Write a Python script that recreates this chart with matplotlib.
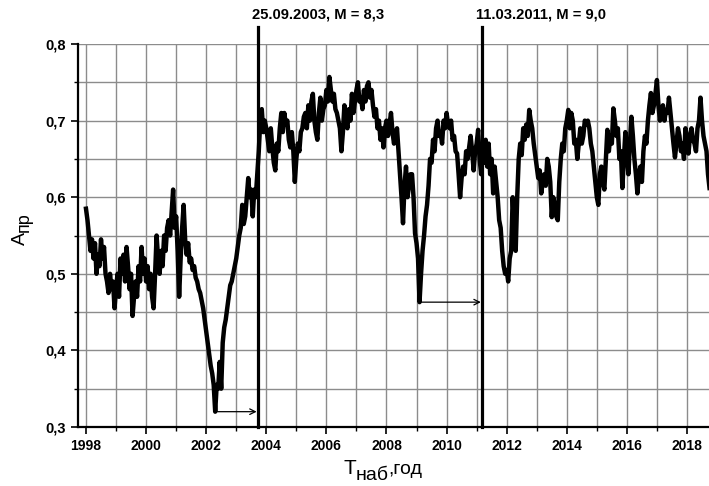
import matplotlib
matplotlib.use('Agg')
import matplotlib.pyplot as plt
import numpy as np
from matplotlib.ticker import MultipleLocator

plt.rcParams['font.family'] = ['Liberation Sans', 'DejaVu Sans']

# Данные: А_пр, шаг 0,05 года, начиная с 1998.0
start_year = 1998.0
step = 0.05
a_1998 = [0.585, 0.57, 0.55, 0.53, 0.545, 0.52, 0.54, 0.50, 0.525, 0.51,
          0.545, 0.52, 0.535, 0.50, 0.49, 0.475, 0.50, 0.48, 0.49, 0.455]
a_1999 = [0.48, 0.50, 0.47, 0.52, 0.50, 0.525, 0.49, 0.535, 0.51, 0.48,
          0.50, 0.445, 0.47, 0.49, 0.47, 0.51, 0.49, 0.535, 0.50, 0.52]
a_2000 = [0.49, 0.51, 0.48, 0.50, 0.47, 0.455, 0.50, 0.55, 0.52, 0.50,
          0.53, 0.51, 0.55, 0.53, 0.56, 0.57, 0.55, 0.58, 0.61, 0.56]
a_2001 = [0.575, 0.53, 0.47, 0.52, 0.56, 0.59, 0.545, 0.525, 0.54, 0.515,
          0.52, 0.505, 0.51, 0.495, 0.49, 0.48, 0.475, 0.465, 0.455, 0.44]
a_2002 = [0.425, 0.41, 0.395, 0.38, 0.37, 0.355, 0.32, 0.355, 0.35, 0.385,
          0.35, 0.41, 0.43, 0.44, 0.455, 0.47, 0.485, 0.49, 0.50, 0.51]
a_2003 = [0.52, 0.535, 0.55, 0.56, 0.59, 0.565, 0.575, 0.60, 0.625, 0.60,
          0.61, 0.575, 0.61, 0.60, 0.63, 0.66, 0.70, 0.715, 0.685, 0.70]
a_2004 = [0.69, 0.675, 0.66, 0.69, 0.665, 0.645, 0.635, 0.67, 0.66, 0.69,
          0.71, 0.685, 0.71, 0.695, 0.70, 0.675, 0.665, 0.685, 0.66, 0.62]
a_2005 = [0.65, 0.67, 0.66, 0.685, 0.69, 0.705, 0.71, 0.69, 0.72, 0.70,
          0.725, 0.735, 0.70, 0.685, 0.675, 0.71, 0.73, 0.70, 0.715, 0.72]
a_2006 = [0.74, 0.725, 0.757, 0.74, 0.725, 0.735, 0.715, 0.71, 0.70, 0.69,
          0.66, 0.685, 0.72, 0.70, 0.69, 0.715, 0.70, 0.735, 0.71, 0.725]
a_2007 = [0.74, 0.75, 0.725, 0.73, 0.715, 0.74, 0.725, 0.745, 0.75, 0.73,
          0.74, 0.72, 0.705, 0.715, 0.69, 0.70, 0.675, 0.69, 0.665, 0.69]
a_2008 = [0.70, 0.68, 0.695, 0.71, 0.685, 0.67, 0.68, 0.69, 0.66, 0.63,
          0.60, 0.566, 0.615, 0.64, 0.60, 0.615, 0.63, 0.63, 0.60, 0.553]
a_2009 = [0.54, 0.52, 0.463, 0.50, 0.53, 0.55, 0.575, 0.59, 0.615, 0.65,
          0.645, 0.675, 0.66, 0.69, 0.70, 0.68, 0.685, 0.67, 0.70, 0.69]
a_2010 = [0.71, 0.695, 0.69, 0.70, 0.675, 0.68, 0.66, 0.657, 0.63, 0.60,
          0.625, 0.64, 0.63, 0.66, 0.65, 0.665, 0.68, 0.66, 0.635, 0.66]
a_2011 = [0.67, 0.688, 0.65, 0.63, 0.665, 0.645, 0.675, 0.64, 0.67, 0.63,
          0.65, 0.605, 0.64, 0.62, 0.60, 0.57, 0.56, 0.53, 0.51, 0.50]
a_2012 = [0.505, 0.49, 0.52, 0.53, 0.60, 0.56, 0.53, 0.60, 0.65, 0.67,
          0.655, 0.69, 0.675, 0.695, 0.68, 0.714, 0.70, 0.69, 0.67, 0.655]
a_2013 = [0.64, 0.625, 0.635, 0.605, 0.62, 0.63, 0.615, 0.65, 0.64, 0.62,
          0.574, 0.60, 0.59, 0.575, 0.57, 0.62, 0.65, 0.67, 0.66, 0.69]
a_2014 = [0.70, 0.714, 0.69, 0.71, 0.70, 0.67, 0.675, 0.65, 0.67, 0.69,
          0.67, 0.68, 0.70, 0.695, 0.70, 0.69, 0.67, 0.66, 0.64, 0.62]
a_2015 = [0.60, 0.59, 0.63, 0.64, 0.62, 0.61, 0.65, 0.688, 0.66, 0.68,
          0.67, 0.716, 0.70, 0.68, 0.69, 0.65, 0.66, 0.612, 0.65, 0.685]
a_2016 = [0.66, 0.63, 0.67, 0.705, 0.68, 0.65, 0.63, 0.605, 0.63, 0.64,
          0.62, 0.66, 0.68, 0.67, 0.70, 0.72, 0.736, 0.71, 0.72, 0.735]
a_2017 = [0.753, 0.72, 0.70, 0.715, 0.72, 0.70, 0.714, 0.71, 0.73, 0.71,
          0.69, 0.67, 0.652, 0.67, 0.69, 0.68, 0.66, 0.67, 0.65, 0.69]
a_2018 = [0.675, 0.657, 0.68, 0.69, 0.675, 0.67, 0.66, 0.69, 0.70, 0.73,
          0.70, 0.68, 0.67, 0.66, 0.63, 0.612]

values = np.array(a_1998 + a_1999 + a_2000 + a_2001 + a_2002 + a_2003 + a_2004
                  + a_2005 + a_2006 + a_2007 + a_2008 + a_2009 + a_2010 + a_2011
                  + a_2012 + a_2013 + a_2014 + a_2015 + a_2016 + a_2017 + a_2018)
years = start_year + step * np.arange(len(values))

# Землетрясения
event_dates = [2003.73, 2011.19]
event_labels = ['25.09.2003, M = 8,3', '11.03.2011, M = 9,0']
min_windows = [(2001.5, 2003.73), (2008.5, 2011.19)]

x_ticks = [1998, 2000, 2002, 2004, 2006, 2008, 2010, 2012, 2014, 2016, 2018]
y_ticks = [0.3, 0.4, 0.5, 0.6, 0.7, 0.8]
y_tick_labels = ['0,3', '0,4', '0,5', '0,6', '0,7', '0,8']

fig = plt.figure(figsize=(7.09, 4.86), dpi=100)
ax = fig.add_axes([0.110, 0.1214, 0.892, 0.788])

ax.plot(years, values, color='black', lw=3.2, solid_joinstyle='round')

# Вертикальные линии событий и подписи
for d, lab, (w0, w1) in zip(event_dates, event_labels, min_windows):
    ax.axvline(d, ymin=0, ymax=1.044, color='black', lw=2.3, clip_on=False, zorder=3)
    ax.text(d - 0.2, 1.076, lab, transform=ax.get_xaxis_transform(),
            fontsize=10.6, fontweight='bold', ha='left', va='center')
    mask = (years >= w0) & (years <= w1)
    i = np.argmin(values[mask])
    tmin, vmin = years[mask][i], values[mask][i]
    ax.annotate('', xy=(d - 0.05, vmin), xytext=(tmin, vmin),
                arrowprops=dict(arrowstyle='->', color='black', lw=0.9,
                                shrinkA=0, shrinkB=0), zorder=4)

ax.set_xlim(1997.734, 2018.78)
ax.set_ylim(0.3, 0.8)
ax.set_xticks(x_ticks)
ax.set_xticklabels([str(x) for x in x_ticks], fontsize=10, fontweight='bold')
ax.set_yticks(y_ticks)
ax.set_yticklabels(y_tick_labels, fontsize=10.5, fontweight='bold')
ax.xaxis.set_minor_locator(MultipleLocator(1))
ax.yaxis.set_minor_locator(MultipleLocator(0.05))
ax.tick_params(which='major', length=5, width=1.2, direction='out')
ax.tick_params(which='minor', length=3, width=1.0, direction='out')

ax.grid(True, which='both', color='#8c8c8c', lw=1.0)
ax.set_axisbelow(True)

for s in ['top', 'right']:
    ax.spines[s].set_visible(False)
for s in ['left', 'bottom']:
    ax.spines[s].set_linewidth(1.6)

# Подпись оси X: Т с нижним индексом "наб"
t1 = fig.text(343 / 709, 1 - 474 / 486, 'Т', fontsize=15, ha='left', va='baseline')
t2 = ax.annotate('наб', xy=(1, 0), xycoords=t1, xytext=(0, -4),
                 textcoords='offset points', fontsize=14, ha='left', va='bottom',
                 annotation_clip=False)
ax.annotate(',год', xy=(1, 0), xycoords=t2, xytext=(0, 4),
            textcoords='offset points', fontsize=14, ha='left', va='bottom',
            annotation_clip=False)

# Подпись оси Y: А с нижним индексом "пр"
y1 = fig.text(20 / 709, 1 - 238 / 486, 'А', fontsize=14, rotation=90,
              ha='center', va='center')
ax.annotate('пр', xy=(1, 1), xycoords=y1, xytext=(3, 0),
            textcoords='offset points', fontsize=13, rotation=90,
            ha='right', va='bottom', annotation_clip=False)

fig.savefig('out.png', dpi=100)
